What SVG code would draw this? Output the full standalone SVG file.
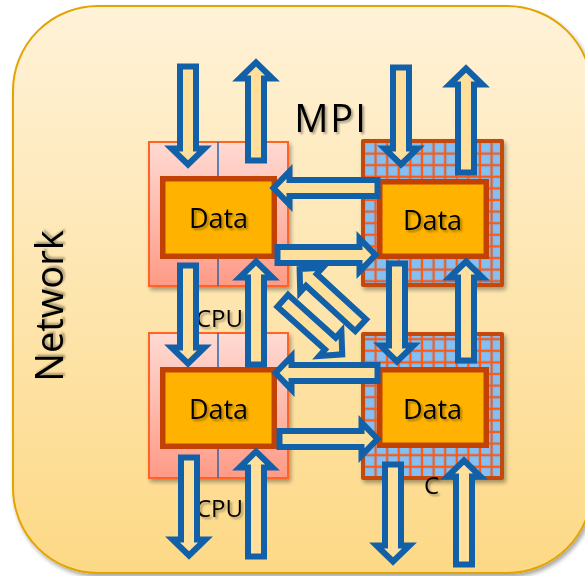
<svg xmlns="http://www.w3.org/2000/svg" width="585" height="576" viewBox="0 0 585 576">
  <defs>
    <linearGradient id="bgGrad" x1="0" y1="0" x2="0" y2="1">
      <stop offset="0" stop-color="#FFF2D8"/>
      <stop offset="1" stop-color="#FDD986"/>
    </linearGradient>
    <linearGradient id="cpuGrad" x1="0" y1="0" x2="0" y2="1">
      <stop offset="0" stop-color="#FFDAD3"/>
      <stop offset="1" stop-color="#FF9A86"/>
    </linearGradient>
    <pattern id="grid" patternUnits="userSpaceOnUse" x="365" y="143" width="11.6" height="11.6">
      <rect width="11.6" height="11.6" fill="#7AB7EE"/>
      <rect x="1" y="1" width="8" height="8" fill="#86C0F3"/>
      <rect x="9.5" y="0" width="2.1" height="11.6" fill="#FF5A14"/>
      <rect x="0" y="9.5" width="11.6" height="2.1" fill="#FF5A14"/>
    </pattern>
    <filter id="shadow" x="-10%" y="-10%" width="130%" height="130%">
      <feGaussianBlur in="SourceAlpha" stdDeviation="2"/>
      <feOffset dx="2" dy="3" result="b"/>
      <feComponentTransfer><feFuncA type="linear" slope="0.35"/></feComponentTransfer>
      <feMerge><feMergeNode/><feMergeNode in="SourceGraphic"/></feMerge>
    </filter>
    <filter id="lineShadow" x="-20%" y="-200%" width="140%" height="500%">
      <feGaussianBlur in="SourceAlpha" stdDeviation="2"/>
      <feOffset dx="2" dy="3"/>
      <feComponentTransfer><feFuncA type="linear" slope="0.35"/></feComponentTransfer>
      <feMerge><feMergeNode/><feMergeNode in="SourceGraphic"/></feMerge>
    </filter>
    <filter id="textShadow" x="-10%" y="-20%" width="130%" height="150%">
      <feGaussianBlur in="SourceAlpha" stdDeviation="1"/>
      <feOffset dx="1.5" dy="1.5"/>
      <feComponentTransfer><feFuncA type="linear" slope="0.35"/></feComponentTransfer>
      <feMerge><feMergeNode/><feMergeNode in="SourceGraphic"/></feMerge>
    </filter>
    <marker id="vee" markerUnits="userSpaceOnUse" markerWidth="40" markerHeight="40" viewBox="-25 -20 40 40" refX="0" refY="0" orient="auto" overflow="visible">
      <path d="M-16,-10 L0,0 L-16,10" fill="none" stroke="#1261A8" stroke-width="5" stroke-linecap="round" stroke-linejoin="miter"/>
    </marker>
    <style>
      text { font-family: "Open Sans", "Liberation Sans", sans-serif; fill: #000; filter: url(#textShadow); }
      .big { font-size: 38px; }
      .data { font-size: 27px; text-anchor: middle; }
      .cpu { font-size: 24px; }
      .cpuBlock { fill: url(#cpuGrad); stroke: #FF6426; stroke-width: 2; filter: url(#shadow); }
      .divider { stroke: #2A66AE; stroke-width: 1.5; }
      .accFrame { fill: #C4480C; filter: url(#shadow); }
      .accGrid { fill: url(#grid); }
      .dataBox { fill: #FFB300; stroke: #C24206; stroke-width: 5.5; }
      .blk { fill: #FEE09C; stroke: #1261A8; stroke-width: 6; stroke-linejoin: miter; }
      .wire { fill: none; stroke: #1261A8; stroke-width: 5; filter: url(#lineShadow); }
    </style>
  </defs>

  <!-- outer network panel -->
  <rect x="13" y="6" width="579" height="567" rx="85" ry="85" fill="url(#bgGrad)" stroke="#E3A400" stroke-width="2" filter="url(#shadow)"/>

  <text class="big" text-anchor="middle" transform="translate(63,306) rotate(-90)">Network</text>
  <text class="big" x="331" y="132" text-anchor="middle" letter-spacing="2">MPI</text>

  <!-- upper CPU node -->
  <g id="cpu-top">
    <rect class="cpuBlock" x="149" y="142" width="139" height="144"/>
    <line class="divider" x1="218" y1="142" x2="218" y2="286"/>
    <rect class="dataBox" x="162.75" y="178.75" width="111.5" height="77.5"/>
    <text class="data" x="218.5" y="228">Data</text>
    <text class="cpu" x="196" y="327">CPU</text>
  </g>

  <!-- lower CPU node -->
  <g id="cpu-bottom">
    <rect class="cpuBlock" x="149" y="333" width="139" height="145"/>
    <line class="divider" x1="218" y1="333" x2="218" y2="478"/>
    <rect class="dataBox" x="162.75" y="369.75" width="111.5" height="76.5"/>
    <text class="data" x="218.5" y="419">Data</text>
    <text class="cpu" x="196" y="517">CPU</text>
  </g>

  <!-- upper accelerator node -->
  <g id="acc-top">
    <rect class="accFrame" x="361" y="139" width="143" height="148" rx="2"/>
    <rect class="accGrid" x="365" y="143" width="135" height="140"/>
    <rect class="dataBox" x="379.75" y="181.75" width="106.5" height="74.5"/>
    <text class="data" x="432.5" y="230">Data</text>
  </g>

  <!-- lower accelerator node -->
  <g id="acc-bottom">
    <rect class="accFrame" x="361" y="332" width="143" height="148" rx="2"/>
    <rect class="accGrid" x="365" y="336" width="135" height="140"/>
    <rect class="dataBox" x="379.75" y="369.75" width="106.5" height="75.5"/>
    <text class="data" x="432.5" y="419">Data</text>
    <text class="cpu" x="424" y="494">C</text>
  </g>

  <!-- connectors -->
  <g id="connectors">
    <!-- network links -->
    <path class="wire" d="M160,212 H87" marker-end="url(#vee)"/>
    <path class="wire" d="M160,404 H87" marker-end="url(#vee)"/>
    <path class="wire" d="M277,213 H353"/>
    <path class="wire" d="M277,406 H353"/>

    <!-- MPI block arrows, top row -->
    <path class="blk" d="M180,66.5 H196 V148.5 H204.5 L188,164.5 L171.5,148.5 H180 Z"/>
    <path class="blk" d="M248,160.5 H264 V78.5 H272.5 L256,62.5 L239.5,78.5 H248 Z"/>
    <path class="blk" d="M393,67.5 H409 V148.5 H417.5 L401,164.5 L384.5,148.5 H393 Z"/>
    <path class="blk" d="M458,172.5 H474 V84.5 H482.5 L466,68.5 L449.5,84.5 H458 Z"/>

    <!-- between upper nodes -->
    <path class="blk" d="M377.5,180 V196 H289.5 V204.5 L273.5,188 L289.5,171.5 V180 Z"/>
    <path class="blk" d="M277.5,247 V263 H359.5 V271.5 L375.5,255 L359.5,238.5 V247 Z"/>

    <!-- vertical links between rows -->
    <path class="blk" d="M180,265.5 H196 V347.5 H204.5 L188,363.5 L171.5,347.5 H180 Z"/>
    <path class="blk" d="M248,364.5 H264 V277.5 H272.5 L256,261.5 L239.5,277.5 H248 Z"/>
    <path class="blk" d="M389,263.5 H405 V345.5 H413.5 L397,361.5 L380.5,345.5 H389 Z"/>
    <path class="blk" d="M458,360.5 H474 V277.5 H482.5 L466,261.5 L449.5,277.5 H458 Z"/>

    <!-- diagonal links -->
    <path class="blk" transform="translate(360.7,325.2) rotate(222.6)" d="M0,-8 H67 V-16.5 L83,0 L67,16.5 V8 H0 Z"/>
    <path class="blk" transform="translate(282.8,300.8) rotate(42)" d="M0,-8 H64 V-16.5 L80,0 L64,16.5 V8 H0 Z"/>

    <!-- between lower nodes -->
    <path class="blk" d="M377.5,365 V381 H291.5 V389.5 L275.5,373 L291.5,356.5 V365 Z"/>
    <path class="blk" d="M279.5,431 V447 H361.5 V455.5 L377.5,439 L361.5,422.5 V431 Z"/>

    <!-- bottom row -->
    <path class="blk" d="M181,457.5 H197 V539.5 H205.5 L189,555.5 L172.5,539.5 H181 Z"/>
    <path class="blk" d="M248,556.5 H264 V467.5 H272.5 L256,451.5 L239.5,467.5 H248 Z"/>
    <path class="blk" d="M385,464.5 H401 V545.5 H409.5 L393,561.5 L376.5,545.5 H385 Z"/>
    <path class="blk" d="M456,564.5 H472 V476.5 H480.5 L464,460.5 L447.5,476.5 H456 Z"/>
  </g>
</svg>
